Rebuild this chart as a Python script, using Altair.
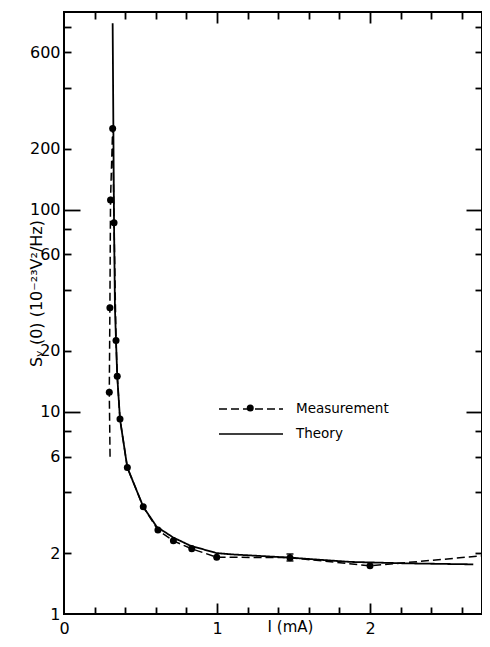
import altair as alt
import pandas as pd

F = "DejaVu Sans"

# ---- data ----
theory_x = [0.318, 0.327, 0.333, 0.340, 0.348, 0.366, 0.414, 0.518, 0.606, 0.714, 0.824, 0.889,
            0.998, 1.105, 1.477, 1.869, 2.240, 2.675]
theory_y = [834, 86.1, 32.6, 22.4, 15.0, 9.2, 5.3, 3.39, 2.70, 2.39, 2.18, 2.11,
            2.00, 1.97, 1.90, 1.81, 1.78, 1.76]

meas_x = [0.301, 0.296, 0.300, 0.304, 0.318, 0.327, 0.340, 0.348, 0.366, 0.414, 0.518, 0.614,
          0.715, 0.835, 0.998, 1.477, 2.000, 2.765]
meas_y = [6.0, 12.5, 32.7, 111.6, 252, 86, 22.5, 15.0, 9.2, 5.3, 3.39, 2.60,
          2.30, 2.10, 1.91, 1.90, 1.73, 1.95]
meas_dot = [False] + [True] * 17

err_x = [1.477]
err_lo = [1.83]
err_hi = [1.98]

x_labels = [0, 1, 2]
x_minor = [0.2, 0.4, 0.6, 0.8, 1.2, 1.4, 1.6, 1.8, 2.2, 2.4, 2.6]
x_major = [1, 2]
y_labels = [1, 2, 6, 10, 20, 60, 100, 200, 600]
y_minor = [2, 4, 6, 8, 20, 40, 60, 80, 200, 400, 600, 800]
y_major = [10, 100]

series_names = ["Measurement", "Theory"]

# ---- tables ----
df_theory = pd.DataFrame({"x": theory_x, "y": theory_y, "i": range(len(theory_x)),
                          "series": "Theory"})
df_meas = pd.DataFrame({"x": meas_x, "y": meas_y, "i": range(len(meas_x)),
                        "dot": meas_dot, "series": "Measurement"})
df_err = pd.DataFrame({"x": err_x, "lo": err_lo, "hi": err_hi})

W, H = 418, 602
xs = alt.Scale(domain=[0, 2.732], nice=False, zero=False)
ys = alt.Scale(type="log", domain=[1, 949], nice=False)


def tick_axis(orient, offset, values, size):
    return alt.Axis(orient=orient, offset=offset, values=values, labels=False, domain=False,
                    grid=False, ticks=True, tickSize=size, tickWidth=1.8, tickColor="black",
                    title=None)


ax_bottom = alt.Axis(orient="bottom", values=x_labels, ticks=False, tickSize=0, domain=False,
                     grid=False, labelFont=F, labelFontSize=16, labelColor="black",
                     labelPadding=6, labelFlush=False, labelOverlap=False, format="d",
                     title="I (mA)", titleFont=F, titleFontSize=15, titleFontWeight="normal",
                     titleColor="black", titleX=226, titleY=12, titleBaseline="middle",
                     titleAlign="center")
ax_left = alt.Axis(orient="left", values=y_labels, ticks=False, tickSize=0, domain=False,
                   grid=False, labelFont=F, labelFontSize=16, labelColor="black",
                   labelPadding=4, labelOverlap=False, labelFlush=False, format="d",
                   title="Sᵥ (0)  (10⁻²³V²/Hz)", titleFont=F, titleFontSize=16,
                   titleFontWeight="normal", titleColor="black", titleX=-28, titleY=281,
                   titleBaseline="middle", titleAlign="center", titleAngle=270)

dash_scale = alt.Scale(domain=series_names, range=[[8, 4], [1, 0]])
line_legend = alt.Legend(orient="none", legendX=154, legendY=388, direction="vertical",
                         title=None, padding=0, symbolType="M-1,0L7,0", symbolSize=256,
                         symbolStrokeColor="black", symbolStrokeWidth=1.6, symbolOpacity=1,
                         rowPadding=9, labelOffset=60, labelFont=F, labelFontSize=13.5,
                         labelColor="black")

theory = alt.Chart(df_theory).mark_line(color="black", strokeWidth=1.8).encode(
    x=alt.X("x:Q", scale=xs, axis=ax_bottom),
    y=alt.Y("y:Q", scale=ys, axis=ax_left),
    strokeDash=alt.StrokeDash("series:N", scale=dash_scale, legend=line_legend),
    order=alt.Order("i:Q"),
)

meas_line = alt.Chart(df_meas).mark_line(color="black", strokeWidth=1.5).encode(
    x=alt.X("x:Q", scale=xs, axis=tick_axis("top", -H, x_minor, 7)),
    y=alt.Y("y:Q", scale=ys, axis=tick_axis("right", -W, y_minor, 7)),
    strokeDash=alt.StrokeDash("series:N", scale=dash_scale, legend=line_legend),
    order=alt.Order("i:Q"),
)

points = alt.Chart(df_meas).transform_filter("datum.dot").mark_point(
    filled=True, color="black", size=49, opacity=1, clip=True).encode(
    x=alt.X("x:Q", scale=xs, axis=tick_axis("bottom", -H, x_minor, 7)),
    y=alt.Y("y:Q", scale=ys, axis=tick_axis("left", -W, y_minor, 7)),
    shape=alt.Shape("series:N", scale=alt.Scale(domain=["Measurement"], range=["circle"]),
                    legend=alt.Legend(orient="none", legendX=179.5, legendY=389.25,
                                      direction="vertical", title=None, padding=0,
                                      symbolSize=49, symbolFillColor="black",
                                      symbolStrokeColor="black", symbolOpacity=1,
                                      labelExpr="''", labelOpacity=0, labelFont=F,
                                      labelFontSize=13.5)),
)

err_rule = alt.Chart(df_err).mark_rule(color="black", strokeWidth=2).encode(
    x=alt.X("x:Q", scale=xs, axis=tick_axis("top", -H, x_major, 11)),
    y=alt.Y("lo:Q", scale=ys, axis=tick_axis("right", -W, y_major, 16)),
    y2="hi:Q",
)
err_caps = alt.Chart(df_err).transform_fold(["lo", "hi"], as_=["k", "v"]).mark_tick(
    color="black", orient="horizontal", size=7, thickness=2).encode(
    x=alt.X("x:Q", scale=xs, axis=tick_axis("bottom", -H, x_major, 11)),
    y=alt.Y("v:Q", scale=ys, axis=tick_axis("left", -W, y_major, 16)),
)

chart = alt.layer(theory, meas_line, points, err_rule, err_caps).resolve_axis(
    x="independent", y="independent"
).properties(
    width=W, height=H,
    autosize=alt.AutoSizeParams(type="none"),
    padding={"left": 56, "top": 4, "right": 0, "bottom": 22},
    background="white",
).configure_view(stroke="black", strokeWidth=2)

chart.save("out.html", embed_options={"renderer": "svg", "actions": False})
